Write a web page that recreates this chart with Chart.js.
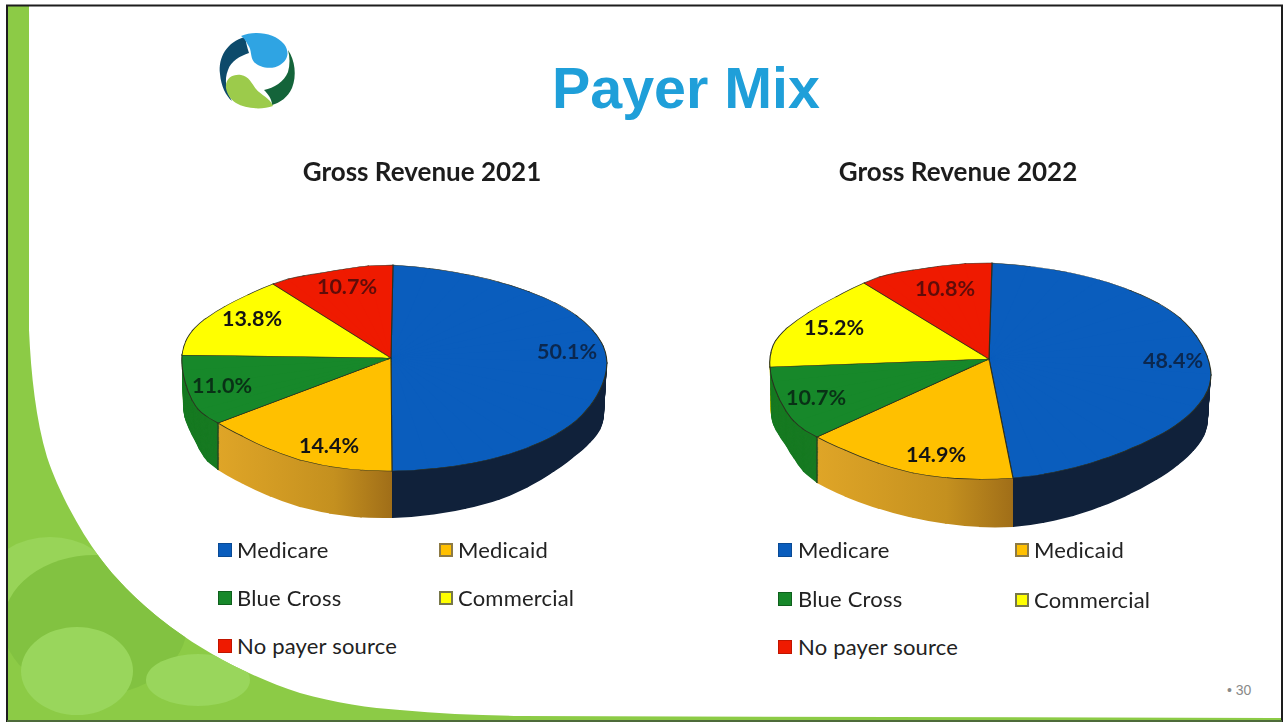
<!DOCTYPE html>
<html><head><meta charset="utf-8"><title>Payer Mix</title>
<script src="https://cdn.jsdelivr.net/npm/chart.js@4"></script>
<style>
html,body{margin:0;padding:0;background:#fff;width:1284px;height:723px;overflow:hidden}
#bg,canvas,.abs{position:absolute}
#bg{left:0;top:0}
.heading{left:552px;top:50px;font:bold 57.4px "Liberation Sans",Arial,sans-serif;color:#1f9fd9;white-space:nowrap;line-height:76px}
.pg{left:1227px;top:682px;font:14px "Liberation Sans",sans-serif;color:#8a8a8a;white-space:nowrap}
.lg{font:22px Lato,sans-serif;color:#222;letter-spacing:.2px;white-space:nowrap;line-height:26px;height:26px}
.sw{width:14px;height:14px;box-sizing:border-box}
</style></head><body>
<svg id="bg" width="1284" height="723" viewBox="0 0 1284 723">
  <defs><clipPath id="gc"><path d="M8 6 L29 6 L29 330 C31 375 36 420 47 457 C58 490 78 528 100 558 C120 585 150 612 175 630 C205 652 250 677 300 693 C335 703 370 708 400 710 C440 714 480 715 520 716 L1282 718 L1282 720 L8 720 Z"/></clipPath></defs>
  <rect x="8" y="6" width="1274" height="714" fill="#8ccb46" clip-path="url(#gc)"/>
  <g clip-path="url(#gc)">
    <ellipse cx="50" cy="575" rx="58" ry="38" fill="#98d458"/>
    <ellipse cx="95" cy="625" rx="92" ry="70" fill="#82c241"/>
    <ellipse cx="77" cy="671" rx="56" ry="44" fill="#99d65c"/>
    <ellipse cx="198" cy="680" rx="52" ry="26" fill="#99d65c"/>
  </g>
  <path d="M7 722 L7 5.5 L1282 5.5 L1282 722" fill="none" stroke="#1d1d1d" stroke-width="2"/>
  <path d="M7 721 L1282 721" fill="none" stroke="#4d6b3a" stroke-width="2"/>
  <!-- logo -->
  <path d="M245 37 C227 42 218 57 220 74 C221 86 226 96 232 101 C226 90 224 80 228 70 C231 61 240 56 249 53 C247 47 246 42 245 37Z" fill="#0d4a6b"/>
  <path d="M241 36 C255 30 275 33 284 44 C290 52 288 60 280 65 C272 70 260 68 254 62 C250 57 252 50 248 45 C246 41 244 38 241 36Z" fill="#2fa4e3"/>
  <path d="M288 50 C295 60 297 76 292 88 C288 97 280 103 272 105 C272 99 268 94 264 90 C274 88 284 82 288 72 C290 65 290 57 288 50Z" fill="#14643a"/>
  <path d="M226 88 C225 78 233 74 241 75 C249 76 252 84 256 89 C261 95 270 98 273 106 C262 110 246 109 236 103 C230 99 227 94 226 88Z" fill="#9ccb4b"/>
</svg>
<div class="abs heading">Payer Mix</div>
<div class="abs pg">•&nbsp;30</div>
<canvas id="c1" width="544" height="390" style="left:150px;top:150px"></canvas>
<canvas id="c2" width="544" height="390" style="left:686px;top:150px"></canvas>
<div id="legends"></div>
<script>
// ---- data ----
const categories = ['Medicare', 'Medicaid', 'Blue Cross', 'Commercial', 'No payer source'];
const values2021 = [50.1, 14.4, 11.0, 13.8, 10.7];
const values2022 = [48.4, 14.9, 10.7, 15.2, 10.8];
const title2021 = 'Gross Revenue 2021';
const title2022 = 'Gross Revenue 2022';
// ---- styles ----
const topColors  = ['#0a5dbd', '#ffc000', '#17882a', '#ffff00', '#ef1a00'];
const sideColors = ['#0d1f38', '#d09a20', '#177a22', '#b5b500', '#a01000'];
const labelColors = ['rgba(12,30,60,.85)', '#141414', 'rgba(8,40,20,.9)', '#141414', 'rgba(70,10,10,.85)'];
const swatchBorders = ['#0a4a94', '#8d7a45', '#0f5f1d', '#77774a', '#c01500'];
// ---- layout: the perspective projection of the disc, as [angle, rim x, rim y, floor x, floor y] ----
const layouts = [
  { left:150, top:150, apex:[391,358], apexFloor:[391,405],
    warp:[[0,393,265,393,312],[30,499,282,498,329],[60,577,316,575,364],[90,607,363,604,415],
          [120,577,420,575,456],[150,499,457,499,500],[180.36,392,471,392,518],[206,300,460,300,507],
          [232.2,218,423,218,470],[252,192,400,196,443],[271.8,182,355,183,405],[297,205,319,205,366],
          [321.48,273,284,273,331],[340,321,273,321,320]],
    labels:[[176,-6],[-62,88],[-169,28],[-139,-39],[-44,-71]],
    swatchX:[218,439], legendX:[237,458], legendY:[[550,598,646],[550,598]] },
  { left:686, top:150, apex:[989,359], apexFloor:[989,408],
    warp:[[0,992,263,992,310],[30,1100,280,1100,327],[60,1180,318,1178,368],[90,1211,375,1208,420],
          [120,1180,422,1178,465],[150,1100,460,1100,507],[174.24,1013,478,1013,527],[200,913,473,913,518],
          [227.88,817,437,817,483],[247,786,411,786,446],[266.4,770,367,771,415],[294,787,328,787,375],
          [321.12,864,283,864,330],[340,913,270,913,317]],
    labels:[[184,2],[-53,96],[-173,39],[-155,-31],[-44,-70]],
    swatchX:[778,1015], legendX:[798,1034], legendY:[[550,599,647],[550,600]] }
];
const wallLayers = 50;
const warpSubdivisions = 3;

// smooth the projection outline through the read-off rim points (periodic cubic Hermite)
function refineWarp(w) {
  const n = w.length, out = [];
  const at = i => { const k = ((i % n) + n) % n, turn = Math.floor(i / n) * 360; return [w[k][0] + turn, ...w[k].slice(1)]; };
  const tan = i => { const a = at(i - 1), b = at(i + 1), dt = b[0] - a[0]; return [1, 2, 3, 4].map(j => (b[j] - a[j]) / dt); };
  for (let i = 0; i < n; i++) {
    const p = at(i), q = at(i + 1), m0 = tan(i), m1 = tan(i + 1), h = q[0] - p[0];
    for (let s = 0; s < warpSubdivisions; s++) {
      const t = s / warpSubdivisions, t2 = t * t, t3 = t2 * t;
      const row = [p[0] + h * t];
      for (let j = 1; j <= 4; j++) {
        row.push((2*t3 - 3*t2 + 1) * p[j] + (t3 - 2*t2 + t) * h * m0[j-1] + (-2*t3 + 3*t2) * q[j] + (t3 - t2) * h * m1[j-1]);
      }
      out.push(row);
    }
  }
  return out;
}

function pie3dPlugin(L) {
  const warp = refineWarp(L.warp);
  return {
    id: 'pie3d',
    beforeDatasetsDraw(chart) {
      const ctx = chart.ctx, arcs = chart.getDatasetMeta(0).data;
      const a0 = arcs[0], R = a0.outerRadius, ax = a0.x, ay = a0.y;
      const src = deg => { const r = deg * Math.PI / 180; return [R * Math.sin(r), -R * Math.cos(r)]; };
      const unit = (x, y) => { const l = Math.hypot(x, y) || 1; return [x / l, y / l]; };
      const outward = (v, other) => {
        let p = unit(-v[1], v[0]);
        if (p[0] * other[0] + p[1] * other[1] > 0) p = [-p[0], -p[1]];
        return p;
      };
      // t=0 is the top face, t=1 the floor of the wall
      const projected = (t, fn) => {
        const Ax = L.apex[0] + t * (L.apexFloor[0] - L.apex[0]) - L.left;
        const Ay = L.apex[1] + t * (L.apexFloor[1] - L.apex[1]) - L.top;
        const pt = c => [c[1] + t * (c[3] - c[1]) - L.left - Ax, c[2] + t * (c[4] - c[2]) - L.top - Ay];
        warp.forEach((c1, i) => {
          if (t > 0 && (c1[0] < 60 || c1[0] > 300)) return; // wall is hidden behind the top face there
          const c2 = warp[(i + 1) % warp.length];
          const S1 = src(c1[0]), S2 = src(c2[0]), T1 = pt(c1), T2 = pt(c2);
          const det = S1[0] * S2[1] - S2[0] * S1[1];
          const a = (T1[0] * S2[1] - T2[0] * S1[1]) / det, c = (-T1[0] * S2[0] + T2[0] * S1[0]) / det;
          const b = (T1[1] * S2[1] - T2[1] * S1[1]) / det, d = (-T1[1] * S2[0] + T2[1] * S1[0]) / det;
          const p1 = outward(T1, T2), p2 = outward(T2, T1);
          const o = .8;
          ctx.save();
          ctx.beginPath();
          ctx.moveTo(Ax + p1[0] * o, Ay + p1[1] * o);
          ctx.lineTo(Ax + T1[0] * 1.3 + p1[0] * o, Ay + T1[1] * 1.3 + p1[1] * o);
          ctx.lineTo(Ax + T2[0] * 1.3 + p2[0] * o, Ay + T2[1] * 1.3 + p2[1] * o);
          ctx.lineTo(Ax + p2[0] * o, Ay + p2[1] * o);
          ctx.closePath();
          ctx.clip();
          ctx.translate(Ax, Ay);
          ctx.transform(a, b, c, d, 0, 0);
          ctx.translate(-ax, -ay);
          fn();
          ctx.restore();
        });
      };
      const base = arcs.map(a => a.options);
      const sides = arcs.map((a, i) => {
        if (i > 1) return sideColors[i];
        const x0 = ax + R * Math.cos(a.endAngle), x1 = ax + R * Math.cos(a.startAngle);
        const g = ctx.createLinearGradient(Math.min(x0, x1), 0, Math.max(x0, x1), 0);
        if (i === 1) { g.addColorStop(0, '#dfa527'); g.addColorStop(.65, '#c4901f'); g.addColorStop(1, '#a06e18'); }
        else { g.addColorStop(0, '#0b1f3b'); g.addColorStop(1, '#10213a'); }
        return g;
      });
      arcs.forEach((a, i) => { a.options = Object.assign({}, base[i], { backgroundColor: sides[i], borderWidth: 0 }); });
      for (let n = wallLayers; n >= 1; n--) projected(n / wallLayers, () => arcs.forEach(a => a.draw(ctx)));
      // dark seam where two walls meet, at the slice boundaries facing the viewer
      arcs.forEach(a => {
        const deg = (a.endAngle + Math.PI / 2) * 180 / Math.PI;
        if (deg <= 200 || deg >= 265) return;
        const c = L.warp.reduce((best, row) => Math.abs(row[0] - deg) < Math.abs(best[0] - deg) ? row : best);
        ctx.save();
        ctx.strokeStyle = '#2c3020'; ctx.lineWidth = 1;
        ctx.beginPath();
        ctx.moveTo(c[1] - L.left, c[2] - L.top);
        ctx.lineTo(c[3] - L.left, c[4] - L.top);
        ctx.stroke();
        ctx.restore();
      });
      arcs.forEach((a, i) => { a.options = base[i]; });
      projected(0, () => arcs.forEach(a => a.draw(ctx)));
      // value labels
      ctx.save();
      ctx.font = 'bold 21.5px Lato, sans-serif';
      ctx.textAlign = 'center'; ctx.textBaseline = 'middle';
      chart.data.datasets[0].data.forEach((v, i) => {
        ctx.fillStyle = labelColors[i];
        ctx.fillText(v.toFixed(1) + '%', L.apex[0] - L.left + L.labels[i][0], L.apex[1] - L.top + L.labels[i][1]);
      });
      ctx.restore();
      return false;
    }
  };
}

function makeChart(id, values, title, L) {
  return new Chart(document.getElementById(id), {
    type: 'pie',
    data: { labels: categories, datasets: [{ data: values, backgroundColor: topColors,
      borderColor: '#2c3020', borderWidth: .9 }] },
    options: {
      responsive: false, animation: false, rotation: 0,
      layout: { padding: 0 },
      plugins: {
        legend: { display: false }, tooltip: { enabled: false },
        title: { display: true, text: title, color: '#1c1c1c', padding: { top: 7, bottom: 0 },
          font: { family: 'Lato, sans-serif', size: 26, weight: 'bold' } }
      }
    },
    plugins: [pie3dPlugin(L)]
  });
}
makeChart('c1', values2021, title2021, layouts[0]);
makeChart('c2', values2022, title2022, layouts[1]);

// ---- legends (two columns, same order as the slices) ----
const host = document.getElementById('legends');
const order = [[0, 0, 0], [1, 1, 0], [2, 0, 1], [3, 1, 1], [4, 0, 2]];
layouts.forEach(L => {
  order.forEach(([i, col, row]) => {
    const y = L.legendY[col][row];
    const sw = document.createElement('div');
    sw.className = 'abs sw';
    sw.style.cssText = `left:${L.swatchX[col]}px;top:${y - 7}px;background:${topColors[i]};border:${i === 1 || i === 3 ? 2 : 1}px solid ${swatchBorders[i]}`;
    const tx = document.createElement('div');
    tx.className = 'abs lg';
    tx.style.cssText = `left:${L.legendX[col]}px;top:${y - 13}px`;
    tx.textContent = categories[i];
    host.append(sw, tx);
  });
});
</script>
</body></html>
